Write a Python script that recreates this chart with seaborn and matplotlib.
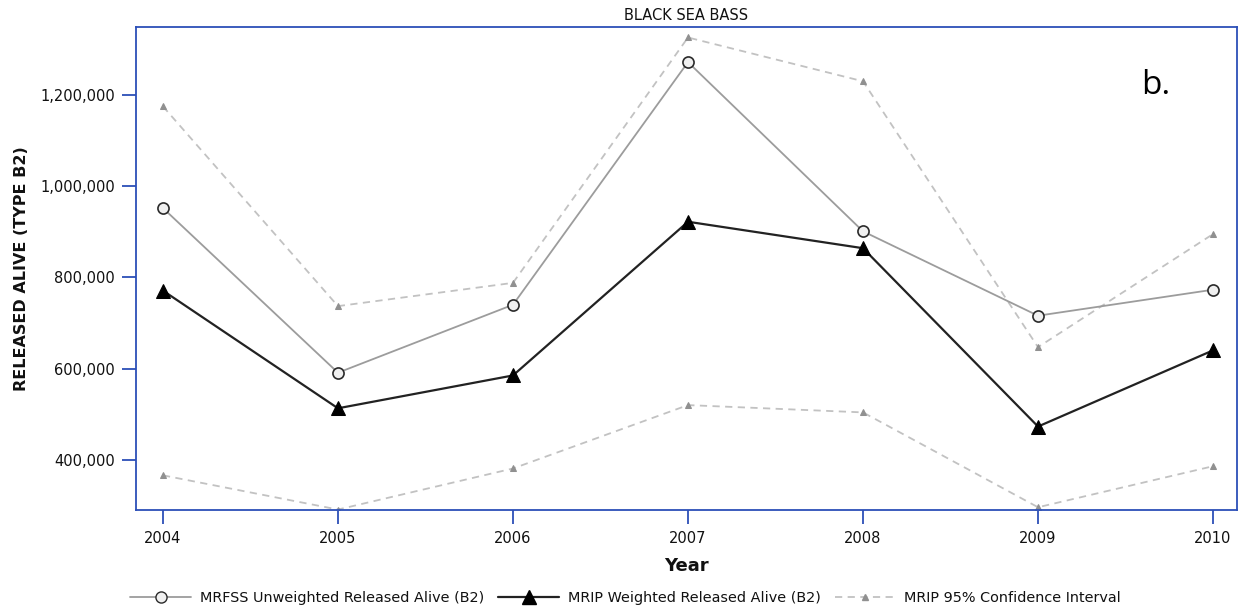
import matplotlib
matplotlib.use("Agg")
import matplotlib.pyplot as plt
import matplotlib.ticker as mticker
from matplotlib.lines import Line2D
import seaborn as sns
import pandas as pd

years = [2004, 2005, 2006, 2007, 2008, 2009, 2010]
mrfss_unweighted = [952000, 591000, 740000, 1272000, 901000, 716000, 773000]
mrip_weighted = [771000, 513000, 585000, 922000, 864000, 473000, 640000]
ci_upper = [1175000, 737000, 788000, 1326000, 1230000, 647000, 895000]
ci_lower = [366000, 291000, 381000, 520000, 504000, 296000, 386000]
y_ticks = [400000, 600000, 800000, 1000000, 1200000]

sns.set_theme(style="white")
plt.rcParams["font.family"] = ["DejaVu Sans"]

frame_blue = "#2c4fb8"
W, H = 1239, 609
fig = plt.figure(figsize=(W / 100, H / 100), dpi=100)
ax = fig.add_axes([136 / W, 1 - 510 / H, (1237 - 136) / W, (510 - 27) / H])

df = pd.DataFrame({"year": years, "mrfss": mrfss_unweighted, "mrip": mrip_weighted,
                   "upper": ci_upper, "lower": ci_lower})

for col in ["upper", "lower"]:
    sns.lineplot(data=df, x="year", y=col, ax=ax, color="#c2c2c2", linewidth=1.3,
                 linestyle=(0, (4, 3)), marker="^", markersize=5,
                 markerfacecolor="#909090", markeredgecolor="#909090", zorder=2)
sns.lineplot(data=df, x="year", y="mrfss", ax=ax, color="#9c9c9c", linewidth=1.3,
             marker="o", markersize=8, markerfacecolor="#f0f0f0",
             markeredgecolor="#2a2a2a", markeredgewidth=1.2, zorder=3)
sns.lineplot(data=df, x="year", y="mrip", ax=ax, color="#222222", linewidth=1.6,
             marker="^", markersize=10, markerfacecolor="black",
             markeredgecolor="black", zorder=4)

ax.set_xlim(2003.846, 2010.137)
ax.set_ylim(290000, 1349000)
ax.set_xticks(years)
ax.set_yticks(y_ticks)
ax.yaxis.set_major_formatter(mticker.FuncFormatter(lambda v, p: f"{int(v):,}"))

for s in ax.spines.values():
    s.set_color(frame_blue)
    s.set_linewidth(1.3)
ax.tick_params(axis="both", which="major", direction="out", length=10, width=1.3,
               color=frame_blue, labelsize=10.5, labelcolor="#111111", pad=5,
               bottom=True, left=True)

ax.set_xlabel("Year", fontsize=13, fontweight="bold", labelpad=8, color="#111111")
ax.set_ylabel("RELEASED ALIVE (TYPE B2)", fontsize=11.5, fontweight="bold", labelpad=8,
              color="#111111")
ax.set_title("BLACK SEA BASS", fontsize=10.5, pad=5, color="#111111")

fig.text(1141 / W, 1 - 85 / H, "b.", fontsize=24, family="Open Sans",
         ha="left", va="center", color="black")

handles = [
    Line2D([], [], color="#9c9c9c", linewidth=1.3, marker="o", markersize=8,
           markerfacecolor="#f0f0f0", markeredgecolor="#2a2a2a"),
    Line2D([], [], color="#222222", linewidth=1.6, marker="^", markersize=10,
           markerfacecolor="black", markeredgecolor="black"),
    Line2D([], [], color="#c2c2c2", linewidth=1.3, linestyle=(0, (4, 3)), marker="^",
           markersize=5, markerfacecolor="#909090", markeredgecolor="#909090"),
]
labels = ["MRFSS Unweighted Released Alive (B2)", "MRIP Weighted Released Alive (B2)",
          "MRIP 95% Confidence Interval"]
leg = fig.legend(handles, labels, loc="center", bbox_to_anchor=(0.505, 1 - 598 / H),
                 ncol=3, frameon=False, fontsize=10.4, handlelength=4.2,
                 columnspacing=1.0, handletextpad=0.6)
for t in leg.get_texts():
    t.set_color("#111111")

fig.savefig("out.png", dpi=100)
